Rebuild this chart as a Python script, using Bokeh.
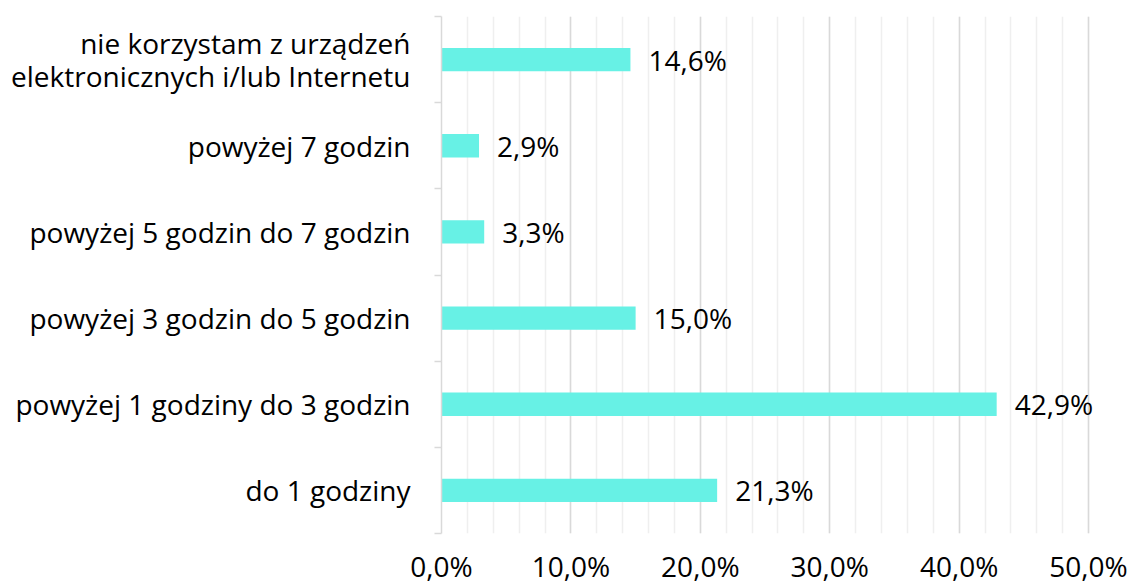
from bokeh.plotting import figure
from bokeh.models import FixedTicker, ColumnDataSource, Range1d
from bokeh.core.properties import value
from bokeh.embed import file_html
from bokeh.resources import INLINE

# data (bottom to top)
categories = [
    "do 1 godziny",
    "powyżej 1 godziny do 3 godzin",
    "powyżej 3 godzin do 5 godzin",
    "powyżej 5 godzin do 7 godzin",
    "powyżej 7 godzin",
    "nie korzystam z urządzeń\nelektronicznych i/lub Internetu",
]
values = [21.3, 42.9, 15.0, 3.3, 2.9, 14.6]
value_labels = ["21,3%", "42,9%", "15,0%", "3,3%", "2,9%", "14,6%"]
x_ticks = [0, 10, 20, 30, 40, 50]
x_tick_labels = ["0,0%", "10,0%", "20,0%", "30,0%", "40,0%", "50,0%"]

FONT = "Open Sans"
FS = "28px"
ypos = [i + 0.5 for i in range(len(categories))]

src = ColumnDataSource(dict(y=ypos, v=values, lab=value_labels))

p = figure(width=1130, height=588, output_backend="svg", toolbar_location=None,
           x_range=Range1d(0, 51), y_range=Range1d(0, len(categories)),
           min_border_left=441, min_border_right=29, min_border_top=16, min_border_bottom=55)
p.outline_line_color = None
p.background_fill_color = "white"

p.hbar(y="y", right="v", left=0, height=0.27, source=src, color="#67F1E5", line_color=None)
p.text(x="v", y="y", text="lab", source=src, x_offset=18, text_baseline="middle",
       text_align="left", text_font=value(FONT), text_font_size=FS, text_color="#000000")

# x axis
p.xaxis.ticker = FixedTicker(ticks=x_ticks, minor_ticks=list(range(0, 52, 2)))
p.xaxis.major_label_overrides = {t: l for t, l in zip(x_ticks, x_tick_labels)}
p.xaxis.axis_line_color = None
p.xaxis.major_tick_line_color = None
p.xaxis.minor_tick_line_color = None
p.xaxis.major_tick_out = 0
p.xaxis.minor_tick_out = 0
p.xaxis.major_label_standoff = 13
p.xaxis.major_label_text_font = FONT
p.xaxis.major_label_text_font_size = FS
p.xaxis.major_label_text_color = "#000000"

p.xgrid.grid_line_color = "#d9d9d9"
p.xgrid.grid_line_width = 1.5
p.xgrid.minor_grid_line_color = "#efefef"
p.xgrid.minor_grid_line_width = 1.5
p.ygrid.grid_line_color = None

# y axis
p.yaxis.ticker = FixedTicker(ticks=ypos, minor_ticks=list(range(0, len(categories) + 1)))
p.yaxis.major_label_overrides = {y: c for y, c in zip(ypos, categories)}
p.yaxis.axis_line_color = "#d9d9d9"
p.yaxis.axis_line_width = 1.5
p.yaxis.major_tick_line_color = None
p.yaxis.major_tick_out = 0
p.yaxis.major_tick_in = 0
p.yaxis.minor_tick_line_color = "#d9d9d9"
p.yaxis.minor_tick_line_width = 1.5
p.yaxis.minor_tick_out = 7
p.yaxis.minor_tick_in = 0
p.yaxis.major_label_standoff = 24
p.yaxis.major_label_text_font = FONT
p.yaxis.major_label_text_font_size = FS
p.yaxis.major_label_text_line_height = 0.88
p.yaxis.major_label_text_color = "#000000"

open("out.html", "w").write(file_html(p, INLINE))
